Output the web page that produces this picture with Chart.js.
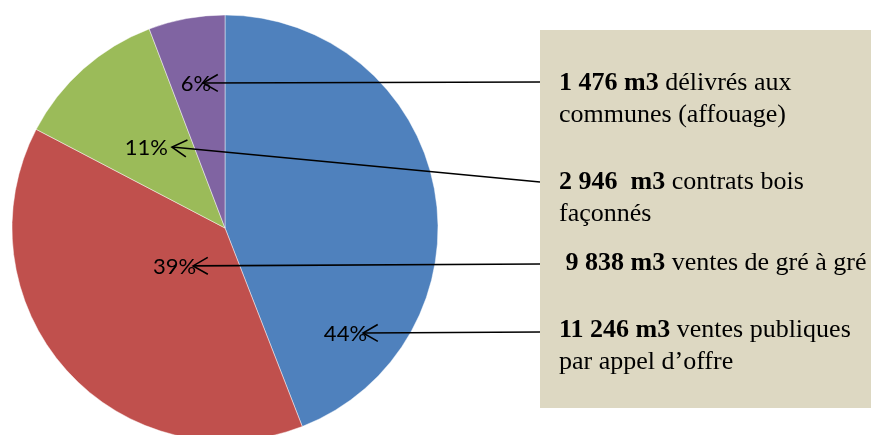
<!DOCTYPE html>
<html>
<head>
<meta charset="utf-8">
<script src="https://cdn.jsdelivr.net/npm/chart.js@4/dist/chart.umd.min.js"></script>
<style>
  html, body { margin: 0; padding: 0; background: #ffffff; overflow: hidden; width: 871px; height: 435px; }
  #wrap { position: absolute; left: 0; top: 0; width: 871px; height: 456px; }
</style>
</head>
<body>
<div id="wrap"><canvas id="c"></canvas></div>
<script>
// ---- data ----
const categories = [
  'ventes publiques par appel d’offre',
  'ventes de gré à gré',
  'contrats bois façonnés',
  'délivrés aux communes (affouage)'
];
const volumes = [11246, 9838, 2946, 1476];
const percentLabels = ['44%', '39%', '11%', '6%'];
const volumeTexts = ['11 246 m3', ' 9 838 m3', '2 946  m3', '1 476 m3'];
const firstLineRest = [' ventes publiques', ' ventes de gré à gré', ' contrats bois', ' délivrés aux'];
const secondLines = ['par appel d’offre', '', 'façonnés', 'communes (affouage)'];

const colors = ['#4F81BD', '#C0504D', '#9BBB59', '#8064A2'];

// layout of annotations (style/position, not data)
const labelAnchors = [ [0.648, 0.493], [-0.150, 0.178], [-0.249, -0.380], [-0.103, -0.681] ];
const textShift = [4, 3, -4, 8];
const boxLeft = 540, boxTop = 30, boxBottom = 408;
const arrowStartY = [332, 264, 182, 82];
const textLineY = [330, 263, 182, 83];
const textX = 559;

const annotPlugin = {
  id: 'annot',
  afterDatasetsDraw(chart) {
    const ctx = chart.ctx;
    const meta = chart.getDatasetMeta(0);
    ctx.save();
    // box
    ctx.fillStyle = '#DDD8C2';
    ctx.fillRect(boxLeft, boxTop, chart.width - boxLeft, boxBottom - boxTop);
    // box texts
    ctx.fillStyle = '#000000';
    ctx.textBaseline = 'middle';
    ctx.textAlign = 'left';
    for (let i = 0; i < categories.length; i++) {
      ctx.font = 'bold 26px "Liberation Serif", "Times New Roman", serif';
      ctx.fillText(volumeTexts[i], textX, textLineY[i]);
      const w = ctx.measureText(volumeTexts[i]).width;
      ctx.font = '26px "Liberation Serif", "Times New Roman", serif';
      ctx.fillText(firstLineRest[i], textX + w, textLineY[i]);
      if (secondLines[i]) ctx.fillText(secondLines[i], textX, textLineY[i] + 32);
    }
    // percent labels and arrows
    meta.data.forEach((arc, i) => {
      const R = arc.outerRadius;
      const tx = arc.x + labelAnchors[i][0] * R;
      const ty = arc.y + labelAnchors[i][1] * R;
      ctx.font = '22px Lato, "Noto Sans", sans-serif';
      ctx.textAlign = 'right';
      ctx.textBaseline = 'middle';
      ctx.fillStyle = '#000000';
      ctx.fillText(percentLabels[i], tx + textShift[i], ty + 1);
      // line
      ctx.strokeStyle = '#000000';
      ctx.lineWidth = 1.6;
      ctx.beginPath();
      ctx.moveTo(boxLeft, arrowStartY[i]);
      ctx.lineTo(tx, ty);
      ctx.stroke();
      // open arrowhead
      const ang = Math.atan2(arrowStartY[i] - ty, boxLeft - tx);
      const L = 17, A = 0.52;
      ctx.beginPath();
      ctx.moveTo(tx + L * Math.cos(ang - A), ty + L * Math.sin(ang - A));
      ctx.lineTo(tx, ty);
      ctx.lineTo(tx + L * Math.cos(ang + A), ty + L * Math.sin(ang + A));
      ctx.stroke();
    });
    ctx.restore();
  }
};

new Chart(document.getElementById('c'), {
  type: 'pie',
  data: {
    labels: categories,
    datasets: [{
      data: volumes,
      backgroundColor: colors,
      borderColor: 'rgba(255,255,255,0.45)',
      borderWidth: 1,
      hoverOffset: 0
    }]
  },
  options: {
    responsive: true,
    maintainAspectRatio: false,
    animation: false,
    radius: 213,
    layout: { padding: { left: 0, right: 421, top: 0, bottom: 0 } },
    plugins: {
      legend: { display: false },
      tooltip: { enabled: false }
    },
    events: []
  },
  plugins: [annotPlugin]
});
</script>
</body>
</html>
